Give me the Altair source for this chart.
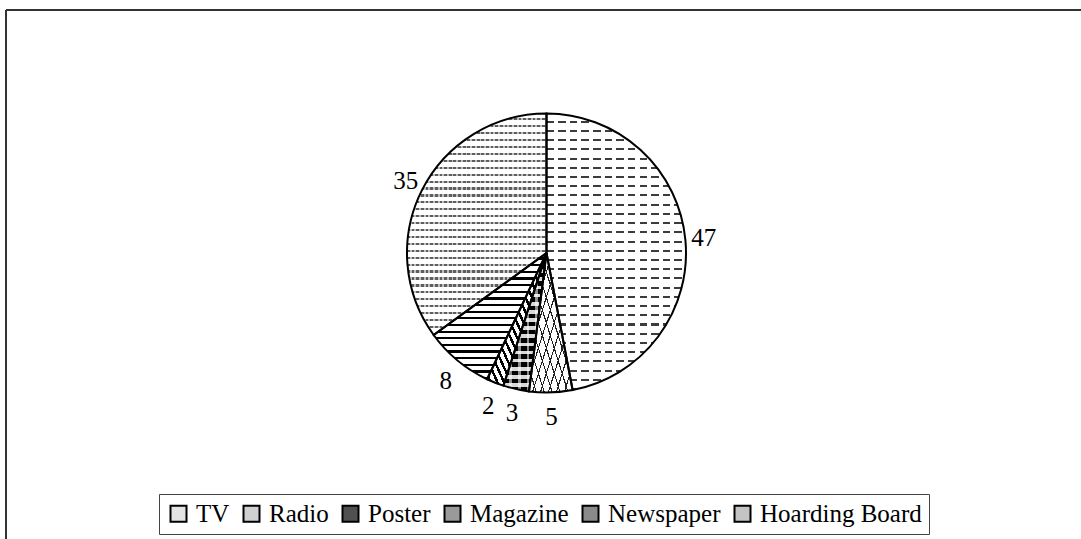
import altair as alt
import pandas as pd

# Share of respondents by advertising medium (percent)
media = ["TV", "Radio", "Poster", "Magazine", "Newspaper", "Hoarding Board"]
shares = [47, 5, 3, 2, 8, 35]
legend_grays = ["#e4e4e4", "#d0d0d0", "#505050", "#9a9a9a", "#8a8a8a", "#c4c4c4"]

df = pd.DataFrame({"medium": media, "share": shares, "idx": list(range(len(media)))})

CX, CY = 540.5, 243      # pie centre inside the plot area
R = 139.5                # pie radius
LABEL_R = 158            # radius of the value labels
FONT = "'Liberation Serif', 'Times New Roman', Times, serif"


def stripes(n, line, bg, frac, x1, y1, x2, y2):
    """Hard-edged linear gradient that renders as n parallel stripes."""
    stops = []
    for k in range(n):
        a = k / n
        b = (k + 1 - frac) / n
        c = (k + 1) / n
        stops += [
            alt.GradientStop(offset=a, color=bg),
            alt.GradientStop(offset=b, color=bg),
            alt.GradientStop(offset=b, color=line),
            alt.GradientStop(offset=c, color=line),
        ]
    return alt.LinearGradient(gradient="linear", stops=stops, x1=x1, y1=y1, x2=x2, y2=y2)


H = (0, 0, 0, 1)      # horizontal stripes
V = (0, 0, 1, 0)      # vertical stripes
FWD = (0, 0, 1, 1)    # "/" stripes
BCK = (0, 1, 1, 0)    # "\" stripes
CLEAR = "rgba(255,255,255,0)"

patterns = {
    "TV": [
        stripes(30, "#3c3c3c", "white", 0.22, *H),
        stripes(12, "white", CLEAR, 0.35, *V),
    ],
    "Radio": [
        stripes(11, "#222222", "white", 0.14, *FWD),
        stripes(11, "#222222", CLEAR, 0.14, *BCK),
    ],
    "Poster": [
        stripes(17, "black", "#d8d8d8", 0.55, *H),
        stripes(5, "rgba(255,255,255,0.55)", CLEAR, 0.3, *V),
    ],
    "Magazine": [
        stripes(18, "black", "white", 0.4, *BCK),
    ],
    "Newspaper": [
        stripes(19, "black", "white", 0.33, *H),
    ],
    "Hoarding Board": [
        stripes(32, "#5e5e5e", "white", 0.32, *H),
        stripes(30, "rgba(255,255,255,0.6)", CLEAR, 0.4, *V),
    ],
}

theta_scale = alt.Scale(domain=[0, 1])

base = (
    alt.Chart(df)
    .transform_window(cum="sum(share)", sort=[alt.SortField("idx")])
    .transform_joinaggregate(total="sum(share)")
    .transform_calculate(
        start="(datum.cum - datum.share) / datum.total",
        end="datum.cum / datum.total",
        mid="(datum.cum - datum.share / 2) / datum.total",
    )
)

arc_pos = dict(
    theta=alt.Theta("start:Q", scale=theta_scale),
    theta2="end:Q",
    x=alt.value(CX),
    y=alt.value(CY),
)

# Solid wedges that also drive the legend
legend_layer = base.mark_arc(radius=R).encode(
    color=alt.Color(
        "medium:N",
        scale=alt.Scale(domain=media, range=legend_grays),
        legend=alt.Legend(
            title=None,
            orient="none",
            legendX=153,
            legendY=484,
            direction="horizontal",
            columns=6,
            symbolType="square",
            symbolSize=256,
            symbolStrokeColor="black",
            symbolStrokeWidth=2,
            symbolOpacity=1,
            labelFont=FONT,
            labelFontSize=25,
            labelColor="black",
            labelOffset=5,
            labelLimit=300,
            columnPadding=9,
            padding=7,
            strokeColor="#444444",
            fillColor="white",
        ),
    ),
    **arc_pos,
)

# Hatched fills, one layer per stripe set
pattern_layers = []
for name in media:
    for fill in patterns[name]:
        pattern_layers.append(
            base.transform_filter(alt.datum.medium == name)
            .mark_arc(radius=R, fill=fill, strokeWidth=0)
            .encode(**arc_pos)
        )

outline = base.mark_arc(
    radius=R, fill="white", fillOpacity=0, stroke="black", strokeWidth=2
).encode(**arc_pos)

label_enc = dict(
    theta=alt.Theta("mid:Q", scale=theta_scale),
    text=alt.Text("share:Q"),
    x=alt.value(CX),
    y=alt.value(CY),
)
label_style = dict(
    radius=LABEL_R, font=FONT, fontSize=25, color="black", align="center", baseline="middle"
)
# labels beside the pie, and those below it set a little lower
side_labels = base.transform_filter(
    (alt.datum.mid < 0.45) | (alt.datum.mid > 0.75)
).mark_text(**label_style).encode(**label_enc)
low_labels = base.transform_filter(
    (alt.datum.mid >= 0.45) & (alt.datum.mid <= 0.75)
).mark_text(dy=6, **label_style).encode(**label_enc)

# Top and left edges of the chart frame
frame_src = alt.Chart(pd.DataFrame({"k": [0]}))
frame_top = frame_src.mark_rule(color="#333333", strokeWidth=2).encode(
    x=alt.value(0), x2=alt.value(1075), y=alt.value(0)
)
frame_left = frame_src.mark_rule(color="#333333", strokeWidth=2).encode(
    x=alt.value(0), y=alt.value(0), y2=alt.value(529)
)

chart = (
    alt.layer(
        legend_layer, *pattern_layers, outline, side_labels, low_labels, frame_top, frame_left
    )
    .properties(
        width=1075,
        height=529,
        autosize="none",
        padding={"left": 6, "top": 10, "right": 0, "bottom": 0},
        background="white",
    )
    .configure_view(stroke="transparent")
)

chart.save("out.html", embed_options={"renderer": "svg", "actions": False})
